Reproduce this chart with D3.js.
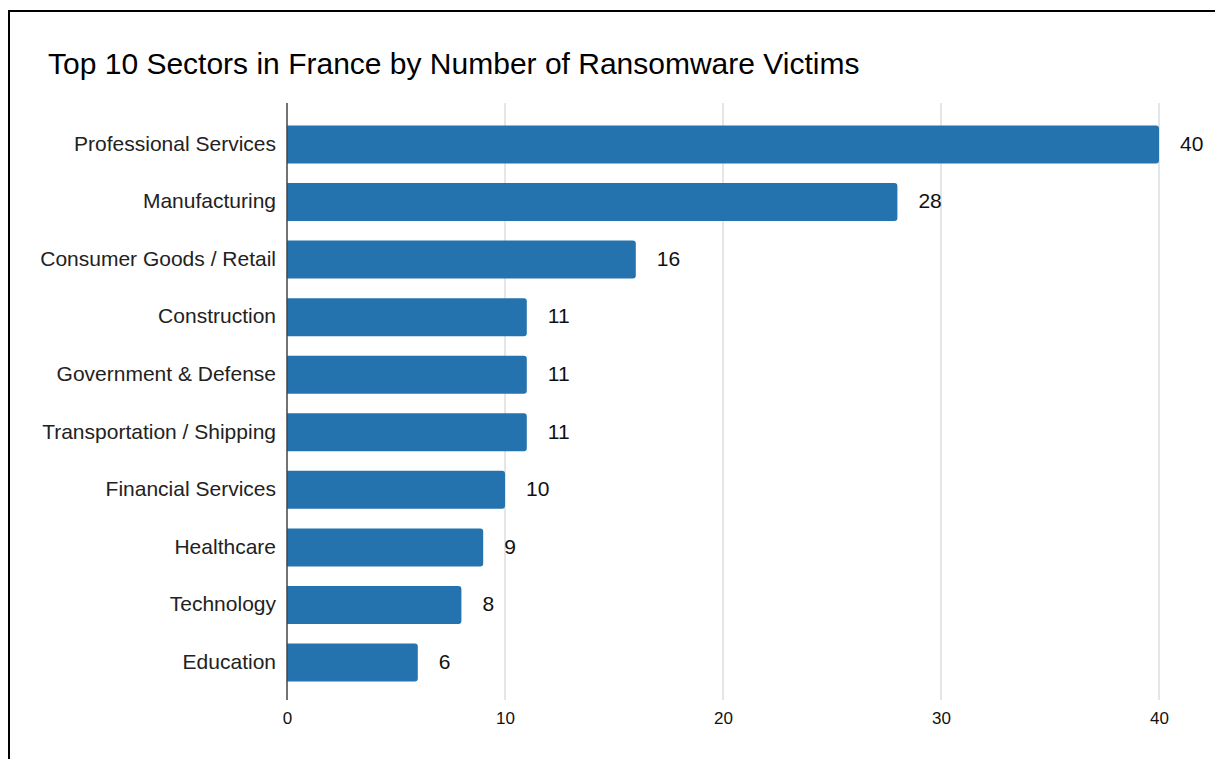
<!DOCTYPE html>
<html>
<head>
<meta charset="utf-8">
<script src="https://cdn.jsdelivr.net/npm/d3@7"></script>
<style>
  body { margin: 0; background: #fff; }
  svg { display: block; font-family: "Liberation Sans", Arial, sans-serif; }
</style>
</head>
<body>
<svg id="chart" width="1215" height="759"></svg>
<script>
  // data
  const sectors = ["Professional Services", "Manufacturing", "Consumer Goods / Retail", "Construction",
    "Government & Defense", "Transportation / Shipping", "Financial Services", "Healthcare",
    "Technology", "Education"];
  const victims = [40, 28, 16, 11, 11, 11, 10, 9, 8, 6];
  const xTicks = [0, 10, 20, 30, 40];

  const svg = d3.select("#chart");

  // outer frame (top + left edge visible)
  svg.append("path")
    .attr("d", "M9,760 V11 H1216")
    .attr("fill", "none")
    .attr("stroke", "#000")
    .attr("stroke-width", 2);

  svg.append("text")
    .attr("x", 48).attr("y", 74)
    .attr("font-size", 30)
    .attr("fill", "#000")
    .text("Top 10 Sectors in France by Number of Ransomware Victims");

  const x = d3.scaleLinear().domain([0, 40]).range([287, 1159]);
  const y = d3.scaleBand().domain(sectors).range([105, 702])
    .paddingInner(0.34).paddingOuter(0.356);

  // gridlines
  svg.append("g")
    .selectAll("line")
    .data(xTicks.slice(1))
    .join("line")
    .attr("x1", d => x(d)).attr("x2", d => x(d))
    .attr("y1", 103).attr("y2", 700)
    .attr("stroke", "#cccccc").attr("stroke-width", 1);

  // bars, rounded on the right end only
  const r = 3;
  svg.append("g")
    .selectAll("path")
    .data(sectors)
    .join("path")
    .attr("fill", "#2473ae")
    .attr("d", (s, i) => {
      const x0 = x(0), x1 = x(victims[i]), y0 = y(s), h = y.bandwidth();
      return `M${x0},${y0} H${x1 - r} Q${x1},${y0} ${x1},${y0 + r} V${y0 + h - r} Q${x1},${y0 + h} ${x1 - r},${y0 + h} H${x0} Z`;
    });

  // value labels
  svg.append("g")
    .selectAll("text")
    .data(sectors)
    .join("text")
    .attr("x", (s, i) => x(victims[i]) + 21)
    .attr("y", s => y(s) + y.bandwidth() / 2)
    .attr("dy", "0.3em")
    .attr("font-size", 21)
    .attr("fill", "#111")
    .text((s, i) => victims[i]);

  // category labels
  svg.append("g")
    .selectAll("text")
    .data(sectors)
    .join("text")
    .attr("x", 276)
    .attr("y", s => y(s) + y.bandwidth() / 2)
    .attr("dy", "0.3em")
    .attr("text-anchor", "end")
    .attr("font-size", 21)
    .attr("fill", "#222")
    .text(s => s);

  // baseline axis
  svg.append("line")
    .attr("x1", x(0)).attr("x2", x(0))
    .attr("y1", 103).attr("y2", 700)
    .attr("stroke", "#444").attr("stroke-width", 1.5);

  // x tick labels
  const xAxis = svg.append("g")
    .attr("transform", "translate(0,700)")
    .call(d3.axisBottom(x).tickValues(xTicks).tickSize(0).tickPadding(12));
  xAxis.select(".domain").remove();
  xAxis.selectAll("text")
    .attr("font-size", 17)
    .attr("font-family", "Liberation Sans, Arial, sans-serif")
    .attr("fill", "#111");
</script>
</body>
</html>
